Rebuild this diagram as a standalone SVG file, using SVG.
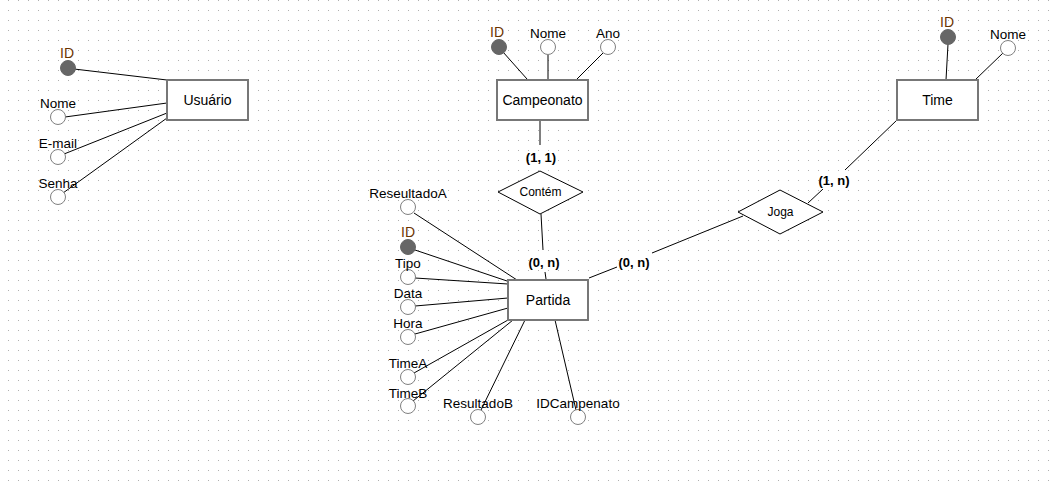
<svg xmlns="http://www.w3.org/2000/svg" width="1054" height="485" viewBox="0 0 1054 485">
<style>
.ent{fill:#fff;stroke:#777;stroke-width:2}
.rel{fill:#fff;stroke:#000;stroke-width:1}
.att{fill:#fff;stroke:#808080;stroke-width:1}
.key{fill:#666;stroke:#666;stroke-width:1}
.ln{stroke:#000;stroke-width:1;fill:none}
text{font-family:"Liberation Sans",Arial,sans-serif;fill:#000;text-anchor:middle;dominant-baseline:central}
.en{font-size:14px}
.al{font-size:13.5px}
.kl{font-size:14px;fill:#6b3300}
.rl{font-size:12px}
.card{font-size:13px;font-weight:bold}
</style>
<defs>
<pattern id="grid" patternUnits="userSpaceOnUse" width="10" height="10">
<rect x="8" y="0" width="1" height="1" fill="#b0b0b0"/>
</pattern>
</defs>
<rect width="1054" height="485" fill="#fff"/>
<rect width="1054" height="485" fill="url(#grid)"/>
<g id="connectors">
<line class="ln" x1="74" y1="69" x2="167" y2="80"/>
<line class="ln" x1="65" y1="117" x2="167" y2="103"/>
<line class="ln" x1="64" y1="154" x2="167" y2="113"/>
<line class="ln" x1="63" y1="193" x2="167" y2="118"/>
<line class="ln" x1="503" y1="52" x2="527" y2="79"/>
<line class="ln" x1="548" y1="55" x2="548" y2="79"/>
<line class="ln" x1="603" y1="53" x2="577" y2="79"/>
<line class="ln" x1="948" y1="44" x2="946" y2="80"/>
<line class="ln" x1="1003" y1="53" x2="975" y2="80"/>
<line class="ln" x1="540" y1="120" x2="540" y2="145"/>
<line class="ln" x1="541" y1="214" x2="543" y2="250"/>
<line class="ln" x1="545" y1="272" x2="546" y2="279"/>
<line class="ln" x1="589" y1="278" x2="617" y2="267"/>
<line class="ln" x1="652" y1="253" x2="743" y2="216"/>
<line class="ln" x1="808" y1="203" x2="823" y2="189"/>
<line class="ln" x1="845" y1="170" x2="897" y2="120"/>
<line class="ln" x1="414" y1="213" x2="517" y2="280"/>
<line class="ln" x1="415" y1="250" x2="510" y2="282"/>
<line class="ln" x1="415" y1="278" x2="508" y2="284"/>
<line class="ln" x1="415" y1="306" x2="508" y2="298"/>
<line class="ln" x1="415" y1="334" x2="508" y2="308"/>
<line class="ln" x1="414" y1="373" x2="508" y2="320"/>
<line class="ln" x1="413" y1="401" x2="513" y2="320"/>
<line class="ln" x1="481" y1="410" x2="525" y2="320"/>
<line class="ln" x1="576" y1="410" x2="555" y2="320"/>
</g>
<g id="usuario"><rect class="ent" x="167" y="80" width="81" height="40"/><text class="en" x="207.5" y="100">Usuário</text></g>
<g id="usuario-id"><circle class="key" cx="68" cy="68" r="7.5"/><text class="kl" x="67" y="53">ID</text></g>
<g id="usuario-nome"><circle class="att" cx="58" cy="117" r="7.5"/><text class="al" x="58" y="103">Nome</text></g>
<g id="usuario-email"><circle class="att" cx="58" cy="157" r="7.5"/><text class="al" x="58" y="143">E-mail</text></g>
<g id="usuario-senha"><circle class="att" cx="58" cy="197" r="7.5"/><text class="al" x="58" y="183">Senha</text></g>
<g id="campeonato"><rect class="ent" x="497" y="80" width="91" height="40"/><text class="en" x="542.5" y="100">Campeonato</text></g>
<g id="campeonato-id"><circle class="key" cx="499" cy="47" r="7.5"/><text class="kl" x="497" y="32">ID</text></g>
<g id="campeonato-nome"><circle class="att" cx="548" cy="47" r="7.5"/><text class="al" x="548" y="33">Nome</text></g>
<g id="campeonato-ano"><circle class="att" cx="608" cy="47" r="7.5"/><text class="al" x="608" y="33">Ano</text></g>
<g id="time"><rect class="ent" x="897" y="80" width="81" height="40"/><text class="en" x="937.5" y="100">Time</text></g>
<g id="time-id"><circle class="key" cx="948" cy="37" r="7.5"/><text class="kl" x="947" y="22">ID</text></g>
<g id="time-nome"><circle class="att" cx="1008" cy="48" r="7.5"/><text class="al" x="1008" y="34">Nome</text></g>
<g id="contem"><polygon class="rel" points="498,192 540,171 583,192 540,214"/><text class="rl" x="540.5" y="192">Contém</text></g>
<g id="joga"><polygon class="rel" points="738,212 780,190 823,212 780,234"/><text class="rl" x="780.5" y="212">Joga</text></g>
<g id="card-campeonato"><text class="card" x="541" y="157">(1, 1)</text></g>
<g id="card-partida-contem"><text class="card" x="544" y="262">(0, n)</text></g>
<g id="card-partida-joga"><text class="card" x="634" y="262">(0, n)</text></g>
<g id="card-time"><text class="card" x="834" y="180">(1, n)</text></g>
<g id="partida"><rect class="ent" x="508" y="280" width="80" height="40"/><text class="en" x="548" y="300">Partida</text></g>
<g id="partida-resultadoa"><circle class="att" cx="408" cy="207" r="7.5"/><text class="al" x="408" y="193">ReseultadoA</text></g>
<g id="partida-id"><circle class="key" cx="408" cy="247" r="7.5"/><text class="kl" x="408" y="232">ID</text></g>
<g id="partida-tipo"><circle class="att" cx="408" cy="277" r="7.5"/><text class="al" x="408" y="263">Tipo</text></g>
<g id="partida-data"><circle class="att" cx="408" cy="307" r="7.5"/><text class="al" x="408" y="293">Data</text></g>
<g id="partida-hora"><circle class="att" cx="408" cy="337" r="7.5"/><text class="al" x="408" y="323">Hora</text></g>
<g id="partida-timea"><circle class="att" cx="408" cy="377" r="7.5"/><text class="al" x="408" y="363">TimeA</text></g>
<g id="partida-timeb"><circle class="att" cx="408" cy="406" r="7.5"/><text class="al" x="408" y="393">TimeB</text></g>
<g id="partida-resultadob"><circle class="att" cx="478" cy="417" r="7.5"/><text class="al" x="478" y="403">ResultadoB</text></g>
<g id="partida-idcampenato"><circle class="att" cx="578" cy="417" r="7.5"/><text class="al" x="578" y="403">IDCampenato</text></g>
</svg>
